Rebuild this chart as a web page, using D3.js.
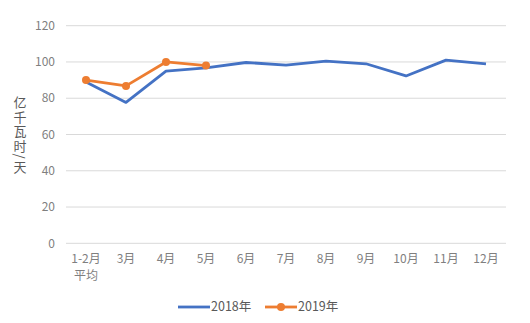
<!DOCTYPE html>
<html>
<head>
<meta charset="utf-8">
<script src="https://cdn.jsdelivr.net/npm/d3@7"></script>
<style>
  html, body { margin: 0; padding: 0; background: #fff; }
  svg { display: block; font-family: "Microsoft YaHei", "Noto Sans CJK SC", sans-serif; }
</style>
</head>
<body>
<svg id="chart" width="530" height="323"></svg>
<script>
// Daily electricity consumption by month
const categories = ["1-2月\n平均", "3月", "4月", "5月", "6月", "7月", "8月", "9月", "10月", "11月", "12月"];
const values2018 = [89, 77.7, 95, 96.7, 99.7, 98.3, 100.5, 99, 92.3, 101, 99];
const values2019 = [90, 86.8, 100, 98];
const yTicks = [0, 20, 40, 60, 80, 100, 120];
const seriesNames = ["2018年", "2019年"];
const yTitle = "亿千瓦时/天";

const colors = ["#4472C4", "#ED7D31"];
const svg = d3.select("#chart");

const x = d3.scaleBand().domain(categories).range([66, 506]);
const y = d3.scaleLinear().domain([0, 120]).range([243.3, 25.7]);
const cx = d => x(d) + x.bandwidth() / 2;

// horizontal gridlines
svg.append("g").selectAll("line").data(yTicks).join("line")
  .attr("x1", 66).attr("x2", 506)
  .attr("y1", d => y(d)).attr("y2", d => y(d))
  .attr("stroke", "#d9d9d9").attr("stroke-width", 1);

// y tick labels
svg.append("g").selectAll("text").data(yTicks).join("text")
  .attr("x", 55).attr("y", d => y(d)).attr("dy", "0.35em")
  .attr("text-anchor", "end").attr("font-size", 12).attr("fill", "#7f7f7f")
  .text(d => d);

// x tick labels (multi-line)
const xl = svg.append("g").selectAll("text").data(categories).join("text")
  .attr("x", d => cx(d)).attr("y", 263)
  .attr("text-anchor", "middle").attr("font-size", 12).attr("fill", "#7f7f7f");
xl.each(function(d) {
  const lines = d.split("\n");
  d3.select(this).selectAll("tspan").data(lines).join("tspan")
    .attr("x", cx(d)).attr("dy", (l, i) => i === 0 ? 0 : 17)
    .text(l => l);
});

// vertical axis title, written top to bottom
svg.append("text")
  .attr("x", 20).attr("y", 96)
  .style("writing-mode", "vertical-rl")
  .attr("letter-spacing", 1.4)
  .attr("font-size", 13).attr("fill", "#595959")
  .text(yTitle);

const line = d3.line().x((d, i) => cx(categories[i])).y(d => y(d));

// 2018 series
svg.append("path").datum(values2018)
  .attr("d", line).attr("fill", "none")
  .attr("stroke", colors[0]).attr("stroke-width", 2.8).attr("stroke-linejoin", "round");

// 2019 series with markers
svg.append("path").datum(values2019)
  .attr("d", line).attr("fill", "none")
  .attr("stroke", colors[1]).attr("stroke-width", 2.8).attr("stroke-linejoin", "round");
svg.append("g").selectAll("circle").data(values2019).join("circle")
  .attr("cx", (d, i) => cx(categories[i])).attr("cy", d => y(d))
  .attr("r", 4).attr("fill", colors[1]);

// legend
const legendY = 307;
const legend = [
  { name: seriesNames[0], color: colors[0], x: 178, marker: false },
  { name: seriesNames[1], color: colors[1], x: 265, marker: true }
];
const lg = svg.append("g").selectAll("g").data(legend).join("g");
lg.append("line")
  .attr("x1", d => d.x).attr("x2", d => d.x + 32)
  .attr("y1", legendY).attr("y2", legendY)
  .attr("stroke", d => d.color).attr("stroke-width", 2.8);
lg.filter(d => d.marker).append("circle")
  .attr("cx", d => d.x + 16).attr("cy", legendY).attr("r", 4)
  .attr("fill", d => d.color);
lg.append("text")
  .attr("x", d => d.x + 33).attr("y", legendY).attr("dy", "0.35em")
  .attr("font-size", 12.5).attr("fill", "#595959")
  .text(d => d.name);
</script>
</body>
</html>
